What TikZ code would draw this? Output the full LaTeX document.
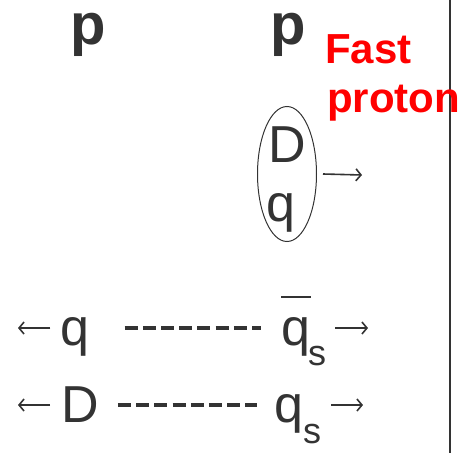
\documentclass[tikz,border=0pt]{standalone}
\usepackage{fontspec}
\setmainfont{Liberation Sans}
\usetikzlibrary{shapes.geometric,arrows.meta}
\definecolor{ink}{HTML}{333333}
\definecolor{fastred}{HTML}{FF0000}

\begin{document}
\begin{tikzpicture}[x=1pt, y=-1pt,
    quark/.style={font=\fontsize{52}{60}\selectfont, text=ink, inner sep=0pt, anchor=base},
    flavour/.style={font=\fontsize{36}{40}\selectfont, text=ink, inner sep=0pt, anchor=base},
    proton/.style={font=\fontsize{58}{60}\selectfont\bfseries, text=ink, inner sep=0pt, anchor=base},
    fastlabel/.style={font=\fontsize{42}{49}\selectfont\bfseries, text=fastred, inner sep=0pt, anchor=base west},
    arr/.style={ink, line width=1.6pt, -{Straight Barb[length=5pt,width=12pt]}},
    string/.style={ink, line width=3.5pt, dash pattern=on 13pt off 5.2pt}]
    \useasboundingbox (0,0) rectangle (467,453);

    % Right edge of the frame
    \draw[ink, line width=2pt] (450,0) -- (450,453);

    % Incoming protons
    \node[proton] (pleft)  at (88,44)  {p};
    \node[proton] (pright) at (288,44) {p};
    \node[fastlabel] (fast)   at (325,63)  {Fast};
    \node[fastlabel] (protonword) at (327,112) {proton};

    % Diquark-quark pair of the fast proton
    \node[ellipse, draw=ink, line width=1pt, minimum width=59, minimum height=135, inner sep=0pt]
        (pair) at (287,174) {};
    \node[quark] (pairD) at (287,162) {D};
    \node[quark] (pairq) at (281,221) {q};
    \coordinate (pairout) at (362,175);
    \draw[arr] ([xshift=6pt]pair.east) -- (pairout);

    % First string: q ---- anti-qs
    \node[quark] (qleft) at (75,345) {q};
    \node[quark] (qbar) at (296,345) {q};
    \node[flavour] (qbars) at (317,365) {s};
    \draw[ink, line width=2pt] ([yshift=48pt]qbar.base west) -- ([yshift=48pt]qbar.base east);
    \coordinate (qleftout) at (18,328);
    \coordinate (qbarout)  at (368,328);
    \draw[arr] ([xshift=-10pt,yshift=17pt]qleft.base west) -- (qleftout);
    \draw[arr] ([xshift=9pt,yshift=37pt]qbars.base east) -- (qbarout);
    \draw[string] ([xshift=35pt,yshift=17pt]qleft.base east) -- ([xshift=-20pt,yshift=17pt]qbar.base west);

    % Second string: D ---- qs
    \node[quark] (dleft) at (80,422) {D};
    \node[quark] (qs) at (289,422) {q};
    \node[flavour] (qss) at (312,443) {s};
    \coordinate (dleftout) at (18,405);
    \coordinate (qsout)    at (363,405);
    \draw[arr] ([xshift=-11pt,yshift=17pt]dleft.base west) -- (dleftout);
    \draw[arr] ([xshift=10pt,yshift=38pt]qss.base east) -- (qsout);
    \draw[string] ([xshift=19pt,yshift=17pt]dleft.base east) -- ([xshift=-17pt,yshift=17pt]qs.base west);
\end{tikzpicture}
\end{document}
